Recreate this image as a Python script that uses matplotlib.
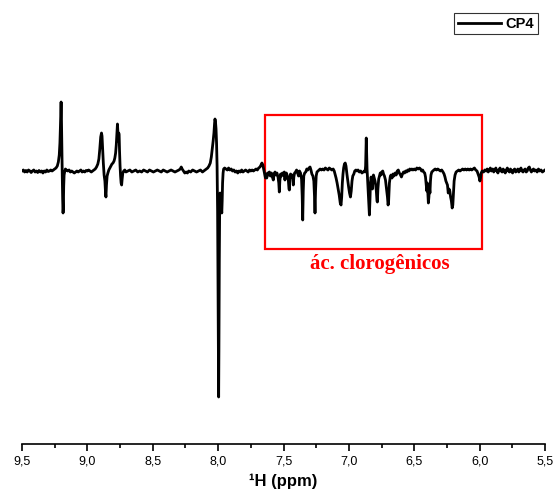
import matplotlib.pyplot as plt
from matplotlib.patches import Rectangle
from matplotlib.ticker import FuncFormatter, MultipleLocator

plt.rcParams['font.family'] = ['Liberation Sans', 'DejaVu Sans']

# Spectrum: (ppm, intensity) pairs, intensity in arbitrary units
seg_920 = [
    (9.500, 0), (9.490, 1), (9.480, -1), (9.470, 0.5), (9.460, -1), (9.450, 1), (9.440, 0),
    (9.430, -1.5), (9.420, 0), (9.410, 1), (9.400, -1), (9.390, 0), (9.380, -1.5), (9.370, 0.5),
    (9.360, -1), (9.350, 0), (9.340, -2), (9.330, 0), (9.320, -1), (9.310, 1), (9.300, -0.5),
    (9.290, 0), (9.280, 1), (9.270, 0), (9.260, 1), (9.250, 2), (9.240, 3), (9.230, 5),
    (9.222, 9), (9.215, 16), (9.210, 28), (9.206, 45), (9.203, 62), (9.201, 69), (9.198, 50),
    (9.195, 20), (9.192, -5), (9.189, -28), (9.186, -42), (9.184, -38), (9.181, -15),
    (9.178, -4), (9.174, -1), (9.168, 2), (9.160, 1), (9.150, 0), (9.140, 1), (9.130, -1),
    (9.120, 0), (9.110, -1), (9.100, -2), (9.090, -1), (9.080, 0), (9.070, -1), (9.060, 0),
    (9.050, 1), (9.040, -1), (9.030, 0), (9.020, -1), (9.010, 0.5), (9.000, 0), (8.990, 1),
    (8.980, 0), (8.970, -1), (8.960, 0), (8.950, 1),
]
seg_880 = [
    (8.940, 2), (8.930, 4), (8.920, 7), (8.912, 12), (8.905, 22), (8.898, 34), (8.892, 38),
    (8.888, 35), (8.883, 22), (8.878, 8), (8.872, -4), (8.866, -10), (8.861, -22), (8.858, -26),
    (8.854, -14), (8.849, -5), (8.843, -2), (8.836, 1), (8.828, 3), (8.820, 5), (8.812, 7),
    (8.804, 8), (8.796, 10), (8.790, 13), (8.784, 18), (8.779, 26), (8.774, 38), (8.770, 47),
    (8.767, 40), (8.764, 30), (8.760, 38), (8.757, 36), (8.754, 20), (8.750, 5), (8.746, -5),
    (8.742, -12), (8.738, -14), (8.734, -8), (8.729, -2), (8.722, 0), (8.714, 1), (8.705, -1),
    (8.690, 0), (8.675, 1), (8.660, -1), (8.645, 0), (8.630, 1), (8.615, -1), (8.600, 0),
    (8.585, -1), (8.570, 1), (8.555, 0), (8.540, -1), (8.525, 1), (8.510, 0), (8.495, -1),
    (8.480, 0), (8.465, 1), (8.450, 0), (8.435, -1), (8.420, 1), (8.405, 0), (8.390, -1),
    (8.375, 0), (8.360, 1), (8.345, 0), (8.330, -1), (8.315, 0), (8.300, 1), (8.290, 2),
    (8.282, 4), (8.275, 2), (8.265, 0), (8.255, -2), (8.245, -1), (8.235, -2), (8.225, 0),
    (8.210, -1), (8.195, 1), (8.180, 0), (8.165, -1), (8.150, 0), (8.135, 1), (8.120, -1),
    (8.110, 0), (8.100, 1),
]
seg_800 = [
    (8.090, 2), (8.080, 3), (8.070, 5), (8.060, 8), (8.052, 14), (8.045, 22), (8.038, 30),
    (8.032, 38), (8.027, 48), (8.024, 52), (8.020, 49), (8.016, 42), (8.012, 28), (8.008, 5),
    (8.004, -40), (8.001, -110), (7.998, -190), (7.996, -226), (7.994, -180), (7.991, -90),
    (7.988, -35), (7.985, -22), (7.982, -28), (7.978, -32), (7.975, -38), (7.972, -42),
    (7.969, -30), (7.966, -12), (7.962, -2), (7.958, 2), (7.950, 3), (7.940, 2), (7.930, 1),
    (7.920, 3), (7.910, 1), (7.900, 2), (7.890, 0), (7.880, 1), (7.870, -1), (7.860, 0),
    (7.850, -2), (7.840, 0), (7.830, -1), (7.820, 1), (7.810, -1), (7.800, 0), (7.790, 1),
    (7.780, 0), (7.770, -1), (7.760, 1), (7.750, 0), (7.740, 1), (7.730, 0), (7.720, 1),
    (7.710, 2), (7.700, 1), (7.690, 3), (7.680, 4), (7.672, 6), (7.665, 8), (7.658, 6),
    (7.652, 2),
]
seg_box = [
    (7.645, -3), (7.638, -7), (7.632, -4), (7.628, -7), (7.622, -2), (7.615, -4), (7.608, -1),
    (7.600, -5), (7.592, -2), (7.585, -6), (7.578, -9), (7.572, -3), (7.565, -1), (7.558, -4),
    (7.550, -2), (7.542, -6), (7.536, -12), (7.532, -21), (7.528, -10), (7.522, -3),
    (7.515, -5), (7.508, -2), (7.500, -4), (7.494, -1), (7.489, -9), (7.484, -3), (7.478, -2),
    (7.470, -5), (7.463, -9), (7.458, -18), (7.455, -19), (7.452, -8), (7.446, -3),
    (7.440, -6), (7.432, -4), (7.428, -10), (7.425, -14), (7.421, -6), (7.415, -2),
    (7.408, -1), (7.400, 1), (7.392, -2), (7.385, -5), (7.378, 0), (7.370, -2), (7.362, -8),
    (7.357, -25), (7.353, -49), (7.349, -20), (7.345, -5), (7.338, -2), (7.330, -1),
    (7.322, 2), (7.314, 1), (7.305, 3), (7.297, 4), (7.290, 1), (7.283, -3), (7.275, -5),
    (7.268, -10), (7.263, -25), (7.259, -42), (7.255, -20), (7.250, -5), (7.244, -1),
    (7.236, 0), (7.228, 1), (7.220, 2), (7.210, 1), (7.200, 2), (7.190, 1), (7.180, 3),
    (7.170, 2), (7.160, 1), (7.150, 3), (7.140, 2), (7.130, 1), (7.120, 2), (7.112, 0),
    (7.106, -3), (7.098, -7), (7.090, -12), (7.082, -18), (7.074, -24), (7.066, -32),
    (7.060, -34), (7.055, -26), (7.050, -12), (7.045, -3), (7.040, 3), (7.034, 7),
    (7.028, 8), (7.022, 5), (7.015, -3), (7.008, -10), (7.002, -16), (6.995, -22),
    (6.988, -26), (6.982, -20), (6.976, -10), (6.970, -5), (6.962, -3), (6.955, 0),
    (6.946, 1), (6.938, 0), (6.930, 1), (6.920, -1), (6.910, 0), (6.900, -2), (6.890, -1),
    (6.882, 0), (6.876, -1), (6.872, 5), (6.869, 20), (6.867, 33), (6.864, 18), (6.861, 2),
    (6.857, -8), (6.852, -20), (6.847, -35), (6.843, -44), (6.839, -30), (6.835, -12),
    (6.830, -6), (6.825, -10), (6.820, -18), (6.816, -8), (6.812, -4), (6.806, -7),
    (6.800, -10), (6.795, -14), (6.790, -20), (6.785, -30), (6.782, -31), (6.778, -18),
    (6.772, -8), (6.766, -5), (6.760, -2), (6.755, -4), (6.748, -1), (6.741, 0),
    (6.735, -3), (6.728, -5), (6.720, -9), (6.712, -18), (6.705, -26), (6.700, -34),
    (6.696, -30), (6.690, -12), (6.684, -6), (6.678, -4), (6.670, -7), (6.662, -3),
    (6.655, -5), (6.646, -2), (6.638, -4), (6.630, 0), (6.622, 1), (6.614, -2), (6.605, -4),
    (6.598, -6), (6.590, -3), (6.582, -1), (6.574, -2), (6.566, 0), (6.558, -1), (6.550, 1),
    (6.542, 0), (6.534, 2), (6.526, 1), (6.518, 2), (6.510, 1), (6.500, 2), (6.490, 1),
    (6.480, 3), (6.470, 2), (6.460, 3), (6.452, 2), (6.444, 0), (6.436, 1), (6.428, -1),
    (6.420, -2), (6.414, -6), (6.408, -14), (6.404, -20), (6.400, -12), (6.396, -22),
    (6.392, -32), (6.388, -26), (6.384, -16), (6.380, -22), (6.376, -10), (6.372, -4),
    (6.366, -1), (6.358, 0), (6.350, 1), (6.340, 2), (6.330, 1), (6.320, 2), (6.310, 1),
    (6.300, 0), (6.290, 1), (6.280, -1), (6.272, -3), (6.265, -6), (6.258, -10),
    (6.252, -12), (6.246, -14), (6.240, -22), (6.234, -18), (6.228, -20), (6.222, -26),
    (6.216, -30), (6.210, -37), (6.205, -34), (6.200, -22), (6.195, -10), (6.188, -4),
    (6.180, -1), (6.170, 0), (6.160, 1), (6.150, 0), (6.140, 1), (6.130, 2), (6.120, 1),
    (6.110, 2), (6.100, 1), (6.090, 2), (6.080, 1), (6.070, 2), (6.060, 1), (6.050, 2),
    (6.040, 3), (6.030, 1), (6.020, 0), (6.012, -3), (6.004, -6), (5.998, -10), (5.993, -7),
    (5.988, -2), (5.980, 0), (5.970, -1),
]
seg_tail = [
    (5.960, 1), (5.950, 0), (5.942, 2), (5.934, -1), (5.926, 1), (5.918, 3), (5.910, 0),
    (5.900, 2), (5.892, -1), (5.884, 1), (5.876, 3), (5.868, 0), (5.860, -2), (5.852, 1),
    (5.844, 3), (5.836, 0), (5.828, -1), (5.820, 2), (5.812, 0), (5.804, -2), (5.796, 1),
    (5.788, 3), (5.780, 0), (5.772, -1), (5.764, 2), (5.756, 0), (5.748, -2), (5.740, 1),
    (5.732, 2), (5.724, -1), (5.716, 0), (5.708, 2), (5.700, -1), (5.692, 1), (5.684, 3),
    (5.676, 0), (5.668, -1), (5.660, 1), (5.652, 2), (5.644, -1), (5.636, 0), (5.628, 3),
    (5.620, 4), (5.612, 1), (5.604, -1), (5.596, 1), (5.588, 2), (5.580, 0), (5.570, 1),
    (5.560, -1), (5.550, 2), (5.540, 0), (5.530, 1), (5.520, -1), (5.510, 0), (5.500, 1),
]

series_name = 'CP4'
region_label = 'ác. clorogênicos'
region_ppm = (7.642, 5.98)      # box limits on the ppm axis
region_int = (-78, 56)          # box limits on the intensity axis
x_ticks = [9.5, 9.0, 8.5, 8.0, 7.5, 7.0, 6.5, 6.0, 5.5]

points = seg_920 + seg_880 + seg_800 + seg_box + seg_tail
ppm = [p for p, _ in points]
intensity = [v for _, v in points]

fig = plt.figure(figsize=(5.56, 5.04), dpi=100)
ax = fig.add_axes([22 / 556, 60 / 504, 523 / 556, 439 / 504])

ax.plot(ppm, intensity, color='black', lw=2.0, label=series_name)

# highlighted region
x0, x1 = region_ppm
y0, y1 = region_int
ax.add_patch(Rectangle((x1, y0), x0 - x1, y1 - y0, fill=False, edgecolor='#ff0000', lw=1.6))
ax.text((x0 + x1) / 2 - 0.05, y0 - 5, region_label, color='#ff0000', ha='center', va='top',
        fontsize=15, fontweight='bold', family=['Liberation Serif', 'DejaVu Serif'])

ax.set_xlim(9.5, 5.5)
ax.set_ylim(-273, 166)
ax.set_xticks(x_ticks)
ax.xaxis.set_minor_locator(MultipleLocator(0.25))
ax.xaxis.set_major_formatter(FuncFormatter(lambda v, _: f'{v:.1f}'.replace('.', ',')))
ax.set_yticks([])
for side in ['top', 'right', 'left']:
    ax.spines[side].set_visible(False)
ax.spines['bottom'].set_linewidth(1.2)
ax.tick_params(axis='x', which='major', direction='out', length=5, width=1.2, labelsize=9, pad=3)
ax.tick_params(axis='x', which='minor', direction='out', length=3, width=1.2)
ax.set_xlabel('¹H (ppm)', fontsize=12, fontweight='bold', labelpad=5)

leg = ax.legend(loc='upper right', bbox_to_anchor=(538 / 556, 1 - 13 / 504),
                bbox_transform=fig.transFigure, fancybox=False, frameon=True,
                edgecolor='black', handlelength=3.0, handletextpad=0.3,
                borderpad=0.25, borderaxespad=0, prop={'weight': 'bold', 'size': 10.5})
leg.get_frame().set_linewidth(0.8)

fig.savefig('out.png', dpi=100)
